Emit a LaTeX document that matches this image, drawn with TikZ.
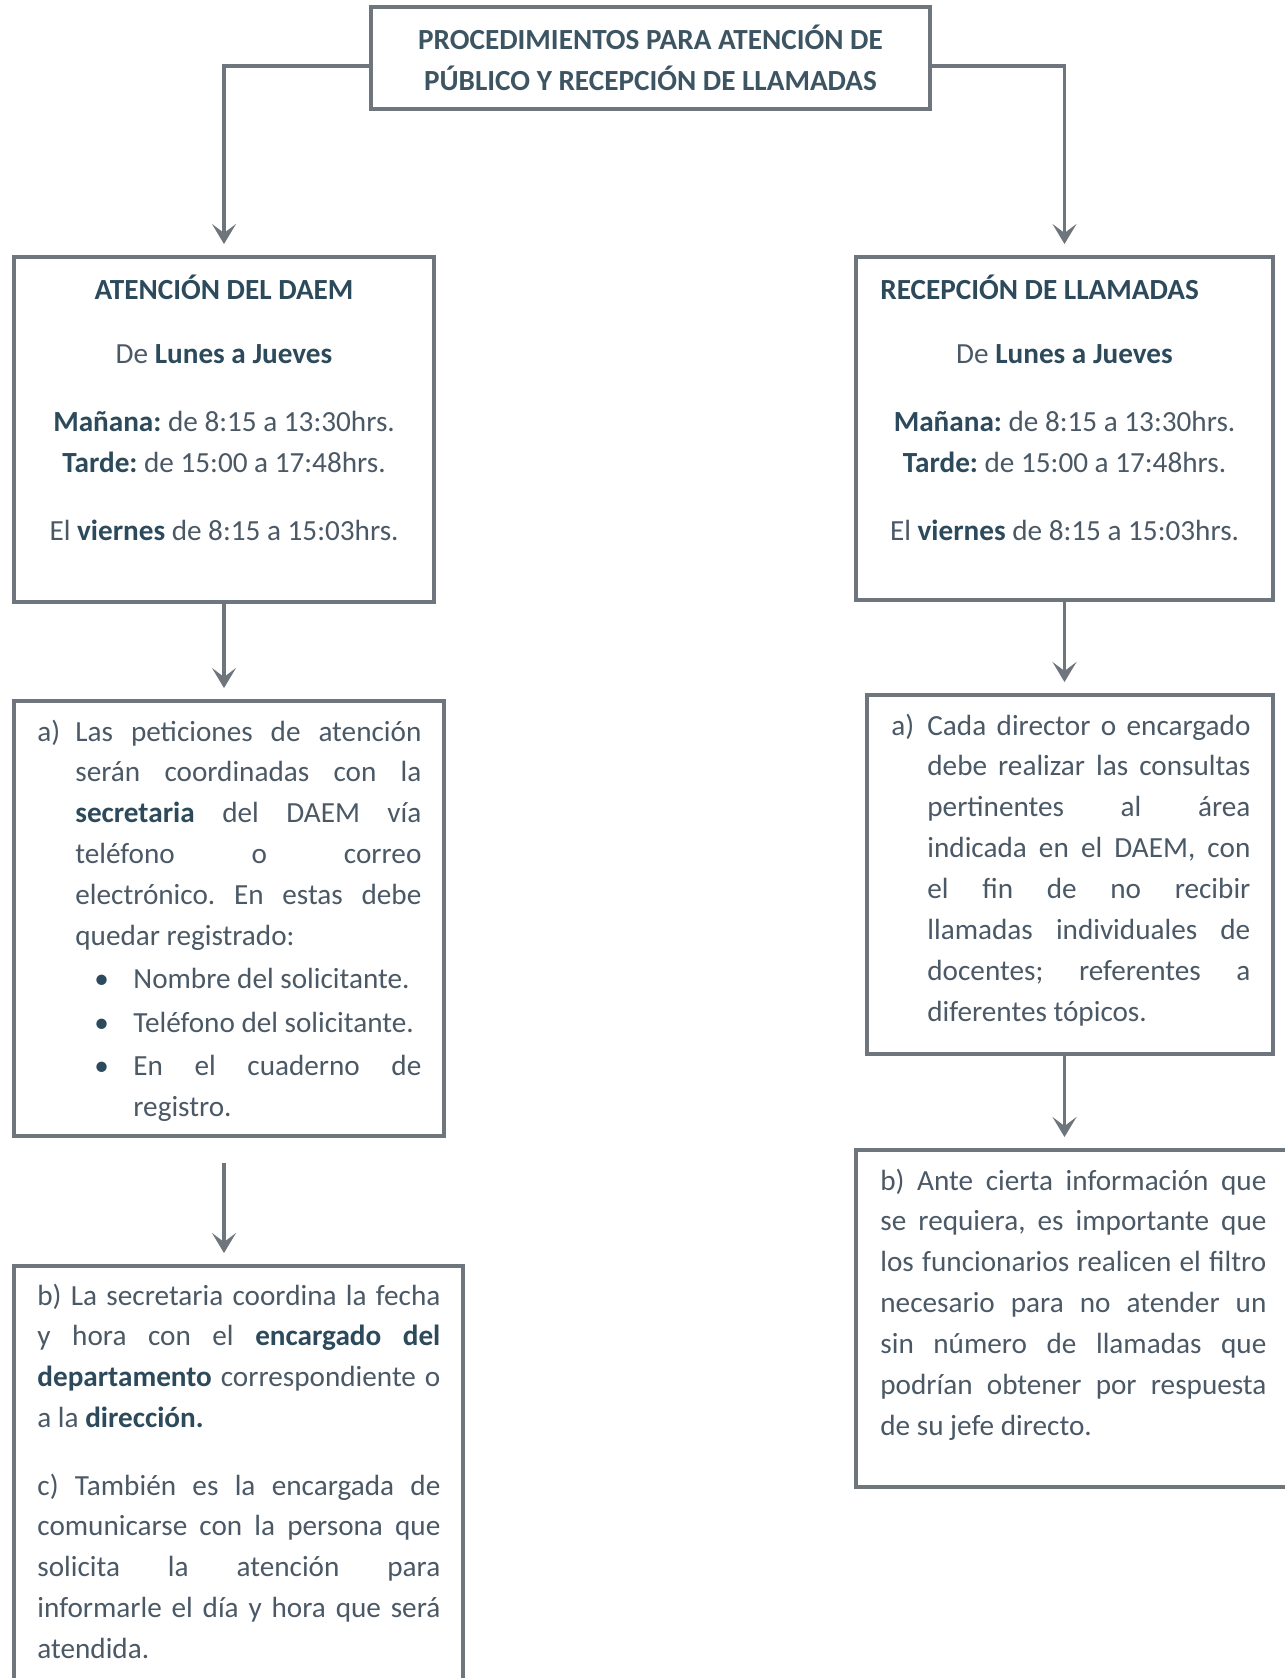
\documentclass[tikz,border=0pt]{standalone}
\usepackage{fontspec}
\setmainfont{Carlito}
\usetikzlibrary{arrows.meta,calc}
\definecolor{ink}{HTML}{4B5966}
\definecolor{inkbold}{HTML}{2C4A5B}
\definecolor{frame}{HTML}{6F757C}
\newcommand\hl[1]{\textbf{\color{inkbold}#1}}
\hyphenpenalty=10000
\exhyphenpenalty=10000
\tolerance=10000
\frenchspacing
\setlength{\parindent}{0pt}
\tikzset{
  box/.style={draw=frame, line width=2pt, inner sep=0pt},
  flow/.style={draw=frame, line width=1.6pt, shorten >=5.5pt,
    -{Stealth[length=10pt,width=12pt,inset=4.5pt]}},
  txt/.style={inner sep=0pt, text=ink, font=\fontsize{14.6}{20.45}\selectfont\frenchspacing},
  para/.style={txt, align=justify, anchor=base west},
  head/.style={txt, font=\fontsize{14.6}{20.45}\selectfont\bfseries, text=inkbold},
}
\begin{document}
\begin{tikzpicture}[x=0.5pt,y=-0.5pt]
\useasboundingbox (0,0) rectangle (1285,1678);
\fill[white] (0,0) rectangle (1285,1678);

% title
\node[box, txt, align=center, minimum width=279.5pt, minimum height=51pt, text=inkbold!80!gray]
  (title) at (650.5,58) {\textbf{PROCEDIMIENTOS PARA ATENCIÓN DE}\\ \textbf{PÚBLICO Y RECEPCIÓN DE LLAMADAS}};

% frames
\node[box, minimum width=210pt, minimum height=172.5pt] (lb1) at (224,429.5) {};
\node[box, minimum width=208.5pt, minimum height=171.5pt] (rb1) at (1064.5,428.5) {};
\node[box, minimum width=215pt, minimum height=217.5pt] (lb2) at (229,918.5) {};
\node[box, minimum width=203pt, minimum height=179.5pt] (rb2) at (1070,874.5) {};
\node[box, minimum width=224.5pt, minimum height=217pt] (lb3) at (238.5,1483) {};
\node[box, minimum width=222pt, minimum height=168.5pt] (rb3) at (1078,1318.5) {};

% schedules (anchored at the baseline of the last line)
\node[head, anchor=base] (lh1) at (224,299) {ATENCIÓN DEL DAEM};
\node[txt, align=center, anchor=base] (lt1) at (224,540)
  {De \hl{Lunes a Jueves}\\[13.6pt]
   \hl{Mañana:} de 8:15 a 13:30hrs.\\
   \hl{Tarde:} de 15:00 a 17:48hrs.\\[13.3pt]
   El \hl{viernes} de 8:15 a 15:03hrs.};
\node[head, anchor=base west] (rh1) at (880,299) {RECEPCIÓN DE LLAMADAS};
\node[txt, align=center, anchor=base] (rt1) at (1064.5,540)
  {De \hl{Lunes a Jueves}\\[13.6pt]
   \hl{Mañana:} de 8:15 a 13:30hrs.\\
   \hl{Tarde:} de 15:00 a 17:48hrs.\\[13.3pt]
   El \hl{viernes} de 8:15 a 15:03hrs.};

% left column
\node[para, text width=192pt] (lt2) at (37,741)
  {\hangindent=19pt\hangafter=1\makebox[19pt][l]{a)}Las peticiones de atención\linebreak
   serán coordinadas con la\linebreak
   \hl{secretaria} del DAEM vía\linebreak
   teléfono o correo\linebreak
   electrónico. En estas debe\linebreak
   quedar registrado:\par\vspace{1.2pt}
   \hangindent=48pt\hangafter=1\hspace*{28.5pt}\makebox[19.5pt][l]{\color{inkbold}\textbullet}Nombre del solicitante.\par\vspace{1.2pt}
   \hangindent=48pt\hangafter=1\hspace*{28.5pt}\makebox[19.5pt][l]{\color{inkbold}\textbullet}Teléfono del solicitante.\par\vspace{1.2pt}
   \hangindent=48pt\hangafter=1\hspace*{28.5pt}\makebox[19.5pt][l]{\color{inkbold}\textbullet}En el cuaderno de\linebreak
   registro.\par};
\node[para, text width=201.5pt] (lt3) at (37,1305)
  {b) La secretaria coordina la fecha\linebreak
   y hora con el \hl{encargado del}\linebreak
   \hl{departamento} correspondiente o\linebreak
   a la \hl{dirección.}\par\vspace{13.2pt}
   c) También es la encargada de\linebreak
   comunicarse con la persona que\linebreak
   solicita la atención para\linebreak
   informarle el día y hora que será\linebreak
   atendida.\par};

% right column
\node[para, text width=179.5pt] (rt2) at (891,735)
  {\hangindent=18pt\hangafter=1\makebox[18pt][l]{a)}Cada director o encargado\linebreak
   debe realizar las consultas\linebreak
   pertinentes al área\linebreak
   indicada en el DAEM, con\linebreak
   el fin de no recibir\linebreak
   llamadas individuales de\linebreak
   docentes; referentes a\linebreak
   diferentes tópicos.\par};
\node[para, text width=193pt] (rt3) at (880,1190)
  {b) Ante cierta información que\linebreak
   se requiera, es importante que\linebreak
   los funcionarios realicen el filtro\linebreak
   necesario para no atender un\linebreak
   sin número de llamadas que\linebreak
   podrían obtener por respuesta\linebreak
   de su jefe directo.\par};

% connectors
\draw[flow] ($(title.west)+(0,8)$) -| (lb1.north);
\draw[flow] ($(title.east)+(0,8)$) -| (rb1.north);
\draw[flow] (lb1.south) -- (lb1.south |- lb2.north);
\draw[flow, shorten <=12.5pt] (lb1.south |- lb2.south) -- (lb1.south |- lb3.north);
\draw[flow] (rb1.south) -- (rb1.south |- rb2.north);
\draw[flow] (rb1.south |- rb2.south) -- (rb1.south |- rb3.north);
\end{tikzpicture}
\end{document}
